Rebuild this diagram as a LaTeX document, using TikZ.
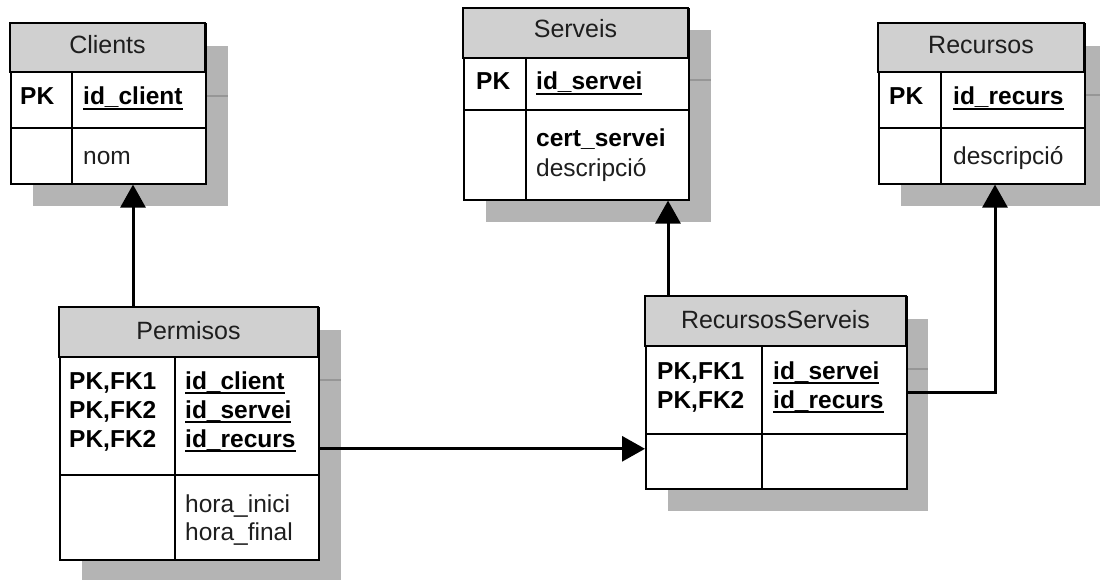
\documentclass[tikz,border=0pt]{standalone}
\usepackage{fontspec}
\setmainfont{Liberation Sans}
\usetikzlibrary{arrows.meta}
\definecolor{hdrgray}{RGB}{208,208,208}
\definecolor{shadowgray}{RGB}{180,180,180}
\definecolor{shadowline}{RGB}{150,150,150}
\definecolor{ink}{RGB}{30,30,30}
% underlined key field
\newcommand\ukey[1]{\setbox0\hbox{#1}\rlap{\rule[-4.6pt]{\wd0}{1.9pt}}\box0}
\tikzset{
  tbl/.style={draw=black, fill=white, line width=1.6pt, inner sep=0pt, anchor=north west},
  hdrbox/.style={fill=hdrgray, draw=black, line width=1.6pt},
  grid/.style={draw=black, line width=1.6pt},
  shadowbox/.style={fill=shadowgray},
  shadowrule/.style={draw=shadowline, line width=1.2pt},
  hd/.style={anchor=base, inner sep=0pt, text=ink, font=\fontsize{25}{29}\selectfont},
  bk/.style={anchor=base west, inner sep=0pt, text=black, font=\fontsize{24.5}{28}\selectfont\bfseries},
  rg/.style={anchor=base west, inner sep=0pt, text=ink, font=\fontsize{24.5}{28}\selectfont},
  conn/.style={line width=3pt, draw=black, -{Triangle[length=23pt, width=25pt]}},
}
\begin{document}
\begin{tikzpicture}[x=1pt, y=-1pt]
\useasboundingbox (0,0) rectangle (1100,580);
\fill[white] (0,0) rectangle (1100,580);
\clip (0,0) rectangle (1100,580);

% ---------- shadows ----------
\fill[shadowbox] (33,46) rectangle (228,206);
\draw[shadowrule] (205,96) -- (228,96);
\fill[shadowbox] (486,30) rectangle (711,222);
\draw[shadowrule] (688,80) -- (711,80);
\fill[shadowbox] (901,46) rectangle (1107,206);
\draw[shadowrule] (1084,95) -- (1107,95);
\fill[shadowbox] (82,330) rectangle (341,585);
\draw[shadowrule] (318,380) -- (341,380);
\fill[shadowbox] (668,319) rectangle (928,511);
\draw[shadowrule] (906,369) -- (928,369);

% ---------- Clients ----------
\node[tbl, minimum width=195pt, minimum height=160pt] (clients) at (10,23) {};
\filldraw[hdrbox] (10,23) rectangle (205,72);
\draw[grid] (10,128) -- (205,128) (72,72) -- (72,183);
\node[hd] at (107.5,54) {Clients};
\node[bk] at (20,105) {PK};
\node[bk] at (83,105) {\ukey{id\_client}};
\node[rg] at (83,165) {nom};

% ---------- Serveis ----------
\node[tbl, minimum width=225pt, minimum height=191pt] (serveis) at (463,8) {};
\filldraw[hdrbox] (463,8) rectangle (688,58);
\draw[grid] (463,110) -- (688,110) (526,58) -- (526,199);
\node[hd] at (575.5,38) {Serveis};
\node[bk] at (476,90) {PK};
\node[bk] at (536,90) {\ukey{id\_servei}};
\node[bk] at (536,147) {cert\_servei};
\node[rg] at (536,177) {descripció};

% ---------- Recursos ----------
\node[tbl, minimum width=206pt, minimum height=160pt] (recursos) at (878,23) {};
\filldraw[hdrbox] (878,23) rectangle (1084,72);
\draw[grid] (878,128) -- (1084,128) (941,72) -- (941,183);
\node[hd] at (981,54) {Recursos};
\node[bk] at (889,105) {PK};
\node[bk] at (953,105) {\ukey{id\_recurs}};
\node[rg] at (953,165) {descripció};

% ---------- Permisos ----------
\node[tbl, minimum width=259pt, minimum height=252pt] (permisos) at (59,307) {};
\filldraw[hdrbox] (59,307) rectangle (318,357);
\draw[grid] (59,475) -- (318,475) (175,357) -- (175,559);
\node[hd] at (188.5,339) {Permisos};
\node[bk] at (69,389) {PK,FK1};
\node[bk] at (69,418) {PK,FK2};
\node[bk] at (69,447) {PK,FK2};
\node[bk] at (185,389) {\ukey{id\_client}};
\node[bk] at (185,418) {\ukey{id\_servei}};
\node[bk] at (185,447) {\ukey{id\_recurs}};
\node[rg] at (185,512) {hora\_inici};
\node[rg] at (185,540) {hora\_final};

% ---------- RecursosServeis ----------
\node[tbl, minimum width=261pt, minimum height=192pt] (recserv) at (645,296) {};
\filldraw[hdrbox] (645,296) rectangle (906,346);
\draw[grid] (645,434) -- (906,434) (762,346) -- (762,488);
\node[hd] at (775.5,328) {RecursosServeis};
\node[bk] at (657,379) {PK,FK1};
\node[bk] at (657,408) {PK,FK2};
\node[bk] at (773,379) {\ukey{id\_servei}};
\node[bk] at (773,408) {\ukey{id\_recurs}};

% ---------- relationships ----------
\draw[conn] ([xshift=74pt]permisos.north west) -- ([xshift=123pt]clients.south west);
\draw[conn] ([xshift=23pt]recserv.north west) -- ([xshift=205pt]serveis.south west);
\draw[conn] ([yshift=-15pt]permisos.east) -- ([yshift=-15pt]permisos.east -| recserv.west);
\draw[conn] (recserv.east) -| ([xshift=117pt]recursos.south west);
\end{tikzpicture}
\end{document}
